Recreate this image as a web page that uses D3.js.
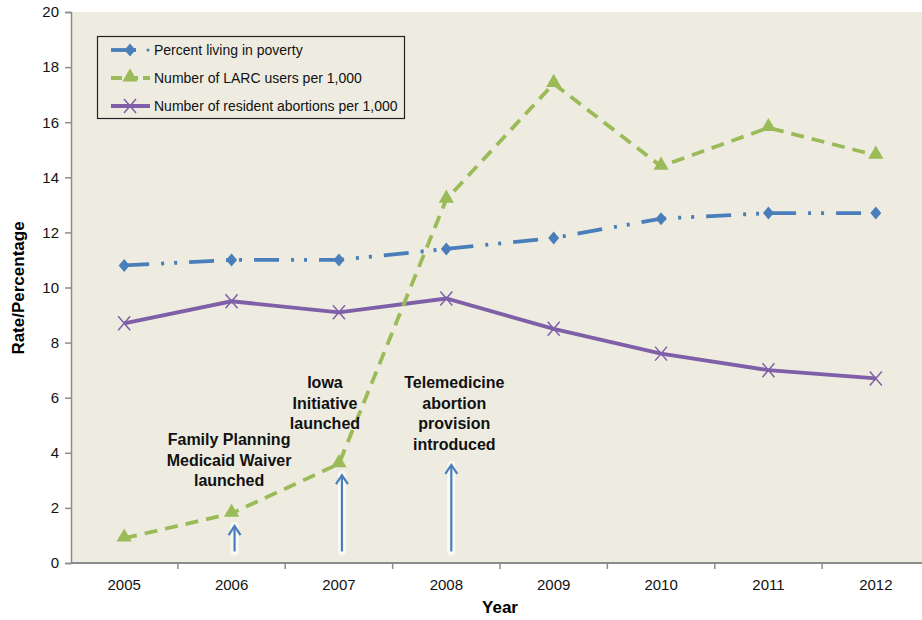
<!DOCTYPE html>
<html>
<head>
<meta charset="utf-8">
<script src="https://cdn.jsdelivr.net/npm/d3@7"></script>
<style>
  body { margin: 0; background: #fff; }
  text { font-family: "Liberation Sans", Arial, sans-serif; }
</style>
</head>
<body>
<div id="chart"></div>
<script>
// donnees
const years = ["2005", "2006", "2007", "2008", "2009", "2010", "2011", "2012"];
const poverty = [10.8, 11.0, 11.0, 11.4, 11.8, 12.5, 12.7, 12.7];
const larc = [0.9, 1.8, 3.6, 13.2, 17.4, 14.4, 15.8, 14.8];
const abortions = [8.7, 9.5, 9.1, 9.6, 8.5, 7.6, 7.0, 6.7];
const yTicks = [0, 2, 4, 6, 8, 10, 12, 14, 16, 18, 20];
const seriesNames = ["Percent living in poverty", "Number of LARC users per 1,000", "Number of resident abortions per 1,000"];
const events = [
  { year: "2006", lines: ["Family Planning", "Medicaid Waiver", "launched"], top: 1.34 },
  { year: "2007", lines: ["Iowa", "Initiative", "launched"], top: 3.19 },
  { year: "2008", lines: ["Telemedicine", "abortion", "provision", "introduced"], top: 3.56 }
];

const W = 922, H = 620;
const svg = d3.select("#chart").append("svg")
    .attr("width", W).attr("height", H);

const gauche = 71, haut = 12, bas = 563;
const x = d3.scaleBand().domain(years).range([70.5, 929.5]);
const y = d3.scaleLinear().domain([0, 20]).range([bas, haut]);
const cx = d => x(d) + x.bandwidth() / 2;

// fond de la zone de tracé
svg.append("rect")
    .attr("x", gauche).attr("y", haut).attr("width", W - gauche).attr("height", bas - haut)
    .attr("fill", "#eeece1");

// axe Y
const axisColor = "#8c8c8c";
const yAxis = svg.append("g").attr("transform", "translate(" + gauche + ",0)")
    .call(d3.axisLeft(y).tickValues(yTicks).tickSize(6).tickPadding(6));
yAxis.select(".domain").attr("stroke", axisColor).attr("stroke-width", 1.5);
yAxis.selectAll(".tick line").attr("stroke", axisColor).attr("stroke-width", 1.5);
yAxis.selectAll(".tick text").attr("font-size", 15).attr("fill", "#111")
    .attr("font-family", "Liberation Sans, Arial, sans-serif");

// axe X (graduations entre les catégories)
svg.append("line")
    .attr("x1", gauche).attr("x2", W).attr("y1", bas).attr("y2", bas)
    .attr("stroke", axisColor).attr("stroke-width", 2);
svg.append("g").selectAll("line")
    .data(years.slice(1))
    .join("line")
    .attr("x1", d => x(d)).attr("x2", d => x(d))
    .attr("y1", bas).attr("y2", bas + 6)
    .attr("stroke", axisColor).attr("stroke-width", 1.5);
svg.append("g").selectAll("text")
    .data(years)
    .join("text")
    .attr("x", d => cx(d)).attr("y", 590)
    .attr("text-anchor", "middle")
    .attr("font-size", 15).attr("fill", "#111")
    .text(d => d);

// titres des axes
svg.append("text")
    .attr("x", 500).attr("y", 613)
    .attr("text-anchor", "middle")
    .attr("font-size", 17).attr("font-weight", "bold")
    .text("Year");
svg.append("text")
    .attr("transform", "translate(24,288) rotate(-90)")
    .attr("text-anchor", "middle")
    .attr("font-size", 17).attr("font-weight", "bold")
    .text("Rate/Percentage");

// couleurs et styles
const blue = "#4a7ebb", green = "#9bbb59", purple = "#7f5fa8";
const line = d3.line().x((d, i) => cx(years[i])).y(d => y(d));

svg.append("path").datum(abortions)
    .attr("d", line).attr("fill", "none")
    .attr("stroke", purple).attr("stroke-width", 3.8);
svg.append("path").datum(poverty)
    .attr("d", line).attr("fill", "none")
    .attr("stroke", blue).attr("stroke-width", 3.8)
    .attr("stroke-dasharray", "25,12,3,10,3,12");
svg.append("path").datum(larc)
    .attr("d", line).attr("fill", "none")
    .attr("stroke", green).attr("stroke-width", 3.8)
    .attr("stroke-dasharray", "13,8");

// marqueurs
function diamond(g, px, py) {
    g.append("path")
        .attr("d", "M0,-6.5L5.5,0L0,6.5L-5.5,0Z")
        .attr("transform", "translate(" + px + "," + py + ")")
        .attr("fill", blue);
}
function triangle(g, px, py) {
    g.append("path")
        .attr("d", d3.symbol().type(d3.symbolTriangle).size(100)())
        .attr("transform", "translate(" + px + "," + (py - 1) + ")")
        .attr("fill", green);
}
function croix(g, px, py) {
    g.append("path")
        .attr("d", "M-6,-7L6,7M-6,7L6,-7")
        .attr("transform", "translate(" + px + "," + py + ")")
        .attr("stroke", purple).attr("stroke-width", 1.5).attr("fill", "none");
}
const marks = svg.append("g");
abortions.forEach((v, i) => croix(marks, cx(years[i]), y(v)));
poverty.forEach((v, i) => diamond(marks, cx(years[i]), y(v)));
larc.forEach((v, i) => triangle(marks, cx(years[i]), y(v)));

// annotations + flèches
const arrowOff = [3, 3, 5];
const labelOff = [-2.5, -14, 8];
const labelY = [445, 388, 388];
const ann = svg.append("g");
events.forEach((ev, k) => {
    const px = cx(ev.year) + arrowOff[k];
    const y0 = y(0.42), y1 = y(ev.top);
    // halo blanc
    ann.append("line")
        .attr("x1", px).attr("x2", px).attr("y1", y0).attr("y2", y1)
        .attr("stroke", "#fff").attr("stroke-width", 8).attr("opacity", 0.7)
        .attr("stroke-linecap", "round");
    ann.append("line")
        .attr("x1", px).attr("x2", px).attr("y1", y0).attr("y2", y1 + 1)
        .attr("stroke", blue).attr("stroke-width", 2.2);
    ann.append("path")
        .attr("d", "M" + (px - 6) + "," + (y1 + 9) + "L" + px + "," + y1 + "L" + (px + 6) + "," + (y1 + 9))
        .attr("fill", "none").attr("stroke", blue).attr("stroke-width", 2.2)
        .attr("stroke-linejoin", "miter");
});
events.forEach((ev, k) => {
    const tx = cx(ev.year) + labelOff[k];
    const t = ann.append("text")
        .attr("x", tx)
        .attr("y", labelY[k])
        .attr("text-anchor", "middle")
        .attr("font-size", 16).attr("font-weight", "bold").attr("fill", "#111");
    ev.lines.forEach((l, j) => {
        t.append("tspan").attr("x", tx)
            .attr("dy", j === 0 ? 0 : 20.5).text(l);
    });
});

// légende
const leg = svg.append("g");
leg.append("rect")
    .attr("x", 97.5).attr("y", 36.5).attr("width", 307).attr("height", 82)
    .attr("fill", "#eeece1").attr("stroke", "#222").attr("stroke-width", 1.2);
const legY = [50, 78, 106];
// poverty
leg.append("line").attr("x1", 111).attr("x2", 136).attr("y1", legY[0]).attr("y2", legY[0])
    .attr("stroke", blue).attr("stroke-width", 3.8);
leg.append("circle").attr("cx", 148).attr("cy", legY[0]).attr("r", 1.6).attr("fill", blue);
diamond(leg, 130, legY[0]);
// larc
leg.append("line").attr("x1", 111).attr("x2", 150).attr("y1", legY[1]).attr("y2", legY[1])
    .attr("stroke", green).attr("stroke-width", 3.8).attr("stroke-dasharray", "11,5");
triangle(leg, 130, legY[1]);
// abortions
leg.append("line").attr("x1", 111).attr("x2", 150).attr("y1", legY[2]).attr("y2", legY[2])
    .attr("stroke", purple).attr("stroke-width", 3.8);
croix(leg, 130, legY[2]);
leg.selectAll("text.lab")
    .data(seriesNames)
    .join("text")
    .attr("class", "lab")
    .attr("x", 154).attr("y", (d, i) => legY[i] + 5)
    .attr("font-size", 14).attr("fill", "#111")
    .text(d => d);
</script>
</body>
</html>
